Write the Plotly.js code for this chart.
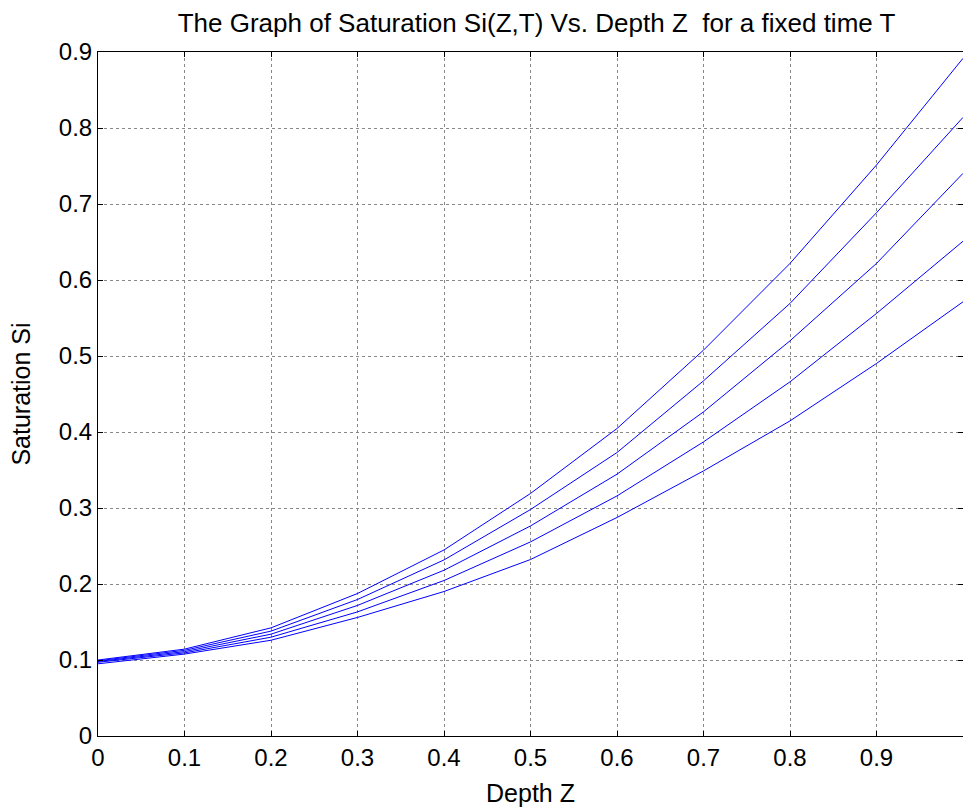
<!DOCTYPE html>
<html>
<head>
<meta charset="utf-8">
<script src="https://cdn.plot.ly/plotly-3.0.1.min.js"></script>
<style>html,body{margin:0;padding:0;background:#fff;}#chart{width:963px;height:807px;}</style>
</head>
<body>
<div id="chart"></div>
<script>
const depthZ = [0, 0.1, 0.2, 0.3, 0.4, 0.5, 0.6, 0.7, 0.8, 0.9, 1.0];
const si1 = [0.100, 0.1143, 0.1423, 0.1875, 0.2448, 0.3191, 0.4046, 0.5077, 0.6218, 0.7513, 0.8917];
const si2 = [0.099, 0.1127, 0.1380, 0.1796, 0.2317, 0.2980, 0.3730, 0.4673, 0.5692, 0.6885, 0.8140];
const si3 = [0.098, 0.1110, 0.1340, 0.1718, 0.2181, 0.2764, 0.3445, 0.4265, 0.5200, 0.6218, 0.7403];
const si4 = [0.097, 0.1094, 0.1300, 0.1633, 0.2046, 0.2554, 0.3159, 0.3870, 0.4660, 0.5560, 0.6510];
const si5 = [0.095, 0.1078, 0.1260, 0.1560, 0.1901, 0.2322, 0.2875, 0.3488, 0.4146, 0.4902, 0.5713];
const xTicks = [0, 0.1, 0.2, 0.3, 0.4, 0.5, 0.6, 0.7, 0.8, 0.9, 1];
const xTickText = ['0', '0.1', '0.2', '0.3', '0.4', '0.5', '0.6', '0.7', '0.8', '0.9', '1'];
const yTicks = [0, 0.1, 0.2, 0.3, 0.4, 0.5, 0.6, 0.7, 0.8, 0.9];
const yTickText = ['0', '0.1', '0.2', '0.3', '0.4', '0.5', '0.6', '0.7', '0.8', '0.9'];

const series = [si1, si2, si3, si4, si5];
const traces = series.map(s => ({
  x: depthZ, y: s, type: 'scatter', mode: 'lines',
  line: {color: '#0000ff', width: 1}, showlegend: false, hoverinfo: 'skip'
}));

const FONT = 'Liberation Sans, Arial, Helvetica, sans-serif';
const axisCommon = {
  showline: true, linecolor: '#000', linewidth: 1, mirror: 'ticks',
  ticks: 'inside', ticklen: 5, tickcolor: '#000', tickwidth: 1,
  showgrid: true, gridcolor: '#888', griddash: 'dot', gridwidth: 1,
  zeroline: false, automargin: false,
  tickfont: {family: FONT, size: 24, color: '#000'}
};

const layout = {
  width: 963, height: 807,
  margin: {l: 98, r: 0, t: 52, b: 71},
  paper_bgcolor: '#fff', plot_bgcolor: '#fff',
  font: {family: FONT, color: '#000'},
  title: {text: 'The Graph of Saturation Si(Z,T) Vs. Depth Z  for a fixed time T',
          font: {size: 26, color: '#000'}, xref: 'paper', x: 0.507, xanchor: 'center',
          yref: 'container', y: 0.972, yanchor: 'middle'},
  xaxis: Object.assign({}, axisCommon, {
    range: [0, 1], tickvals: xTicks, ticktext: xTickText,
    title: {text: 'Depth Z', font: {size: 25, color: '#000'}, standoff: 14}
  }),
  yaxis: Object.assign({}, axisCommon, {
    range: [0, 0.9], tickvals: yTicks, ticktext: yTickText,
    title: {text: 'Saturation Si', font: {size: 25, color: '#000'}, standoff: 21}
  })
};

Plotly.newPlot('chart', traces, layout, {staticPlot: true, displayModeBar: false});
</script>
</body>
</html>
